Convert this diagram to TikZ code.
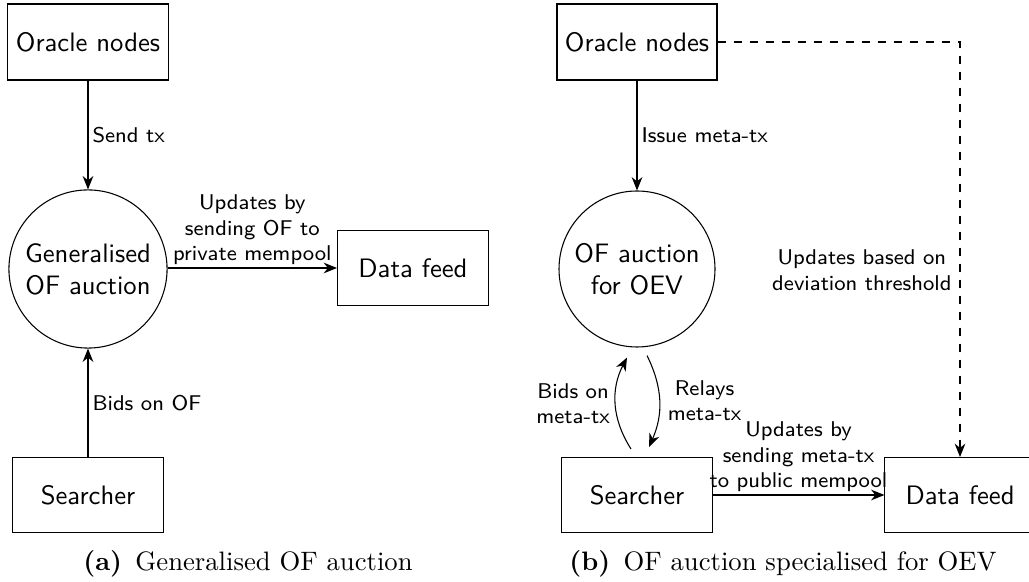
\documentclass[tikz,border=0pt]{standalone}
\usetikzlibrary{arrows.meta,calc}
\begin{document}
\begin{tikzpicture}[x=0.375pt,y=-0.375pt,
  box/.style={draw, inner sep=0pt, font=\sffamily, minimum height=28.1pt},
  auct/.style={draw, circle, inner sep=0pt, font=\sffamily, align=center},
  lab/.style={font=\sffamily\footnotesize, inner sep=1.5pt, align=center},
  arr/.style={-{Stealth[length=5pt,width=4pt,inset=1.6pt]}},
  captext/.style={font=\normalsize, inner sep=0pt}]
\useasboundingbox (0,0) rectangle (1029,582);

% ---------- (a) ----------
\node[box, minimum width=60.4pt, minimum height=28.5pt] (ora) at (88,42) {Oracle nodes};
\node[auct, minimum size=59.3pt] (ca) at (88,269) {Generalised\\OF auction};
\node[box, minimum width=56.6pt] (dfa) at (413,268) {Data feed};
\node[box, minimum width=56.6pt] (sra) at (88,495) {Searcher};

\draw[arr] (ora) -- node[lab, right] {Send tx} (ca);
\draw[arr] (sra) -- node[lab, right] {Bids on OF} (ca);
\draw[arr] (ca.east |- dfa.west) -- node[lab, above, inner sep=1pt] {Updates by\\sending OF to\\private mempool} (dfa.west);

\node[captext] (capa) at (248,564) {\textbf{(a)}\hspace{5pt}Generalised OF auction};

% ---------- (b) ----------
\node[box, minimum width=60pt, minimum height=28.5pt] (orb) at (637,42) {Oracle nodes};
\node[auct, minimum size=58.5pt] (cb) at (637,269) {OF auction\\for OEV};
\node[box, minimum width=56.3pt] (srb) at (637,495) {Searcher};
\node[box, minimum width=56.3pt] (dfb) at (960,495) {Data feed};

\draw[arr] (orb) -- node[lab, right] {Issue meta-tx} (cb);
\draw[arr, dashed] (orb.east) -| node[lab, left, pos=0.775, inner sep=3pt] {Updates based on\\deviation threshold} (dfb.north);
\draw[arr] (srb) -- node[lab, above, inner sep=1pt] {Updates by\\sending meta-tx\\to public mempool} (dfb);

\coordinate (b1) at ($(srb.north)+(-6,-8)$);
\coordinate (b2) at ($(cb.south)+(-10,10)$);
\coordinate (r1) at ($(cb.south)+(10,8)$);
\coordinate (r2) at ($(srb.north)+(12,-10)$);
\draw[arr] (b1) to[bend left=30] node[lab, left, inner sep=2pt] {Bids on\\meta-tx} (b2);
\draw[arr] (r1) to[bend left=25] node[lab, right, inner sep=3pt] {Relays\\meta-tx} (r2);

\node[captext] (capb) at (783,564) {\textbf{(b)}\hspace{5pt}OF auction specialised for OEV};
\end{tikzpicture}
\end{document}
